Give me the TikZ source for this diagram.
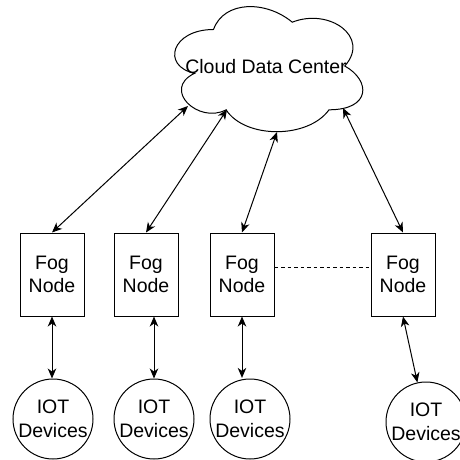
\documentclass[tikz,border=0pt]{standalone}
\usepackage{fontspec}
\setmainfont{Liberation Sans}
\usetikzlibrary{arrows.meta}
\tikzset{
  lbl/.style={font=\fontsize{19.5}{23.5}\selectfont, align=center, text=black},
  fogbox/.style={lbl, draw=black, line width=1pt, rectangle, minimum width=64pt, minimum height=83pt, inner sep=0pt},
  iotdev/.style={lbl, draw=black, line width=1pt, circle, minimum size=80pt, inner sep=0pt},
  link/.style={line width=1pt, {Stealth[length=10pt,width=8.5pt,inset=3pt]}-{Stealth[length=10pt,width=8.5pt,inset=3pt]}},
  peer/.style={line width=1pt, dash pattern=on 3.5pt off 3pt},
  cloudline/.style={draw=black, line width=1pt, fill=white}
}
\begin{document}
\begin{tikzpicture}[x=1pt, y=-1pt]
  \useasboundingbox (0,0) rectangle (460,460);
  \fill[white] (0,0) rectangle (460,460);

  % cloud outline
  \draw[cloudline] (213.5,29.5)
    .. controls (171.5,29.5) and (161,66) .. (194.6,73.3)
    .. controls (161,89.4) and (198.8,124.4) .. (226.1,109.8)
    .. controls (245,139) and (308,139) .. (329,109.8)
    .. controls (371,109.8) and (371,80.6) .. (344.75,66)
    .. controls (371,36.8) and (329,7.6) .. (292.25,22.2)
    .. controls (266,0.3) and (224,0.3) .. (213.5,29.5) -- cycle;
  \node[lbl] (cloud) at (266,67) {Cloud Data Center};

  % attachment points on the cloud outline
  \coordinate (c1) at (188,106);
  \coordinate (c2) at (227,109.5);
  \coordinate (c3) at (277,132);
  \coordinate (c4) at (343,108);

  % fog layer
  \node[fogbox] (f1) at (52,274.5) {Fog\\Node};
  \node[fogbox] (f2) at (146,274.5) {Fog\\Node};
  \node[fogbox] (f3) at (242,274.5) {Fog\\Node};
  \node[fogbox] (f4) at (403,274.5) {Fog\\Node};

  % device layer
  \node[iotdev] (d1) at (53,419) {IOT\\Devices};
  \node[iotdev] (d2) at (154,419) {IOT\\Devices};
  \node[iotdev] (d3) at (250,419) {IOT\\Devices};
  \node[iotdev] (d4) at (426,422) {IOT\\Devices};

  % cloud <-> fog
  \draw[link] (c1) -- (f1.north);
  \draw[link] (c2) -- (f2.north);
  \draw[link] (c3) -- (f3.north);
  \draw[link] (c4) -- (f4.north);

  % fog <-> devices
  \draw[link] (f1.south) -- (f1.south |- d1.north);
  \draw[link] (d2 |- f2.south) -- (d2.north);
  \draw[link] (f3.south) -- ([yshift=0.6pt]f3.south |- d3.north);
  \draw[link] (f4.south) -- (d4);

  % fog peer link
  \draw[peer] (f3.east |- 0,267) -- (f4.west |- 0,267);
\end{tikzpicture}
\end{document}
